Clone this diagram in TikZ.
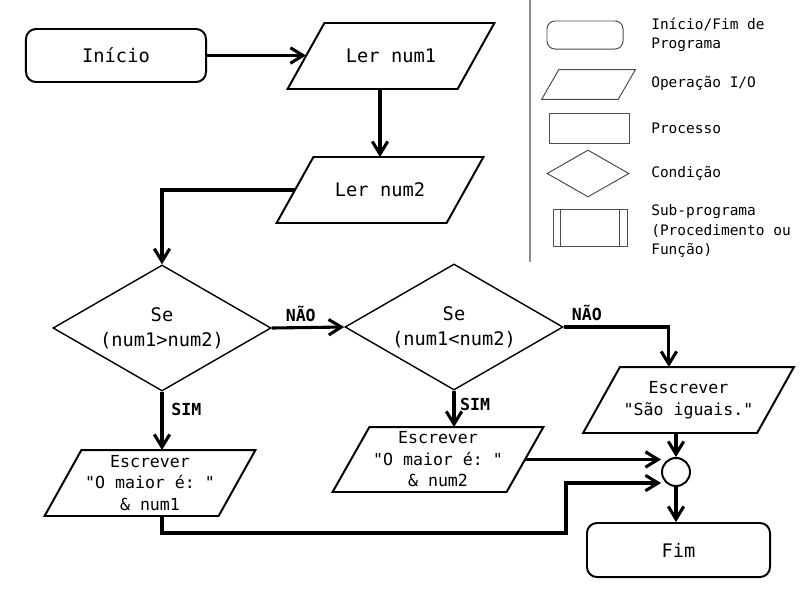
\documentclass[tikz,border=0pt]{standalone}
\usepackage{fontspec}
\setmonofont{DejaVu Sans Mono}
\usetikzlibrary{shapes.geometric,arrows.meta}

\begin{document}
\begin{tikzpicture}[x=0.025cm,y=-0.025cm]
	\tikzstyle{every node}=[font=\ttfamily\fontsize{13.3}{17.5}\selectfont]
	\tikzstyle{term}=[draw, rounded corners=0.25cm, line width=1.4pt, minimum width=4.5cm, minimum height=1.325cm]
	\tikzstyle{io}=[inner sep=0pt, outer sep=0.7pt, minimum height=1.6cm, minimum width=4.3cm, align=center]
	\tikzstyle{cond}=[draw, diamond, aspect=1.75, line width=1pt, inner sep=0pt, minimum width=5.45cm, minimum height=3.15cm, align=center]
	\tikzstyle{small}=[font=\ttfamily\fontsize{11.8}{15.3}\selectfont]
	\tikzstyle{lbl}=[font=\ttfamily\fontsize{11.8}{14}\selectfont\bfseries]
	\tikzstyle{arr}=[line width=2.2pt, -{Straight Barb[length=9pt,width=11pt]}]
	\tikzstyle{lg}=[draw=black!70, line width=0.7pt]
	\tikzstyle{lgtext}=[anchor=west, align=left, inner sep=0pt, font=\ttfamily\fontsize{10.3}{13.8}\selectfont]
	
	\useasboundingbox (0,0) rectangle (800,600);
	
	% legenda
	\draw [color=black!45, line width=1.5pt] (530,0) -- (530,262);
	\node [lg, rounded corners=0.2cm, minimum width=1.9cm, minimum height=0.7cm] (lgterm) at (585,35) {};
	\node [inner sep=0pt, minimum width=1.9cm, minimum height=0.725cm] (lgio) at (588.5,84.5) {};
	\draw [lg] ([xshift=0.2125cm]lgio.north west) -- ([xshift=0.2125cm]lgio.north east) -- ([xshift=-0.2125cm]lgio.south east) -- ([xshift=-0.2125cm]lgio.south west) -- cycle;
	\node [lg, minimum width=2cm, minimum height=0.75cm] (lgproc) at (589,128) {};
	\node [lg, diamond, inner sep=0pt, minimum width=2.05cm, minimum height=1.175cm] (lgcond) at (588,173.5) {};
	\node [lg, minimum width=1.85cm, minimum height=0.925cm] (lgsub) at (590,227.5) {};
	\draw [lg] ([xshift=0.2cm]lgsub.north west) -- ([xshift=0.2cm]lgsub.south west);
	\draw [lg] ([xshift=-0.2cm]lgsub.north east) -- ([xshift=-0.2cm]lgsub.south east);
	
	\node [lgtext] (txterm) at (651,35) {Início/Fim de\\Programa};
	\node [lgtext] (txio) at (651,83) {Operação I/O};
	\node [lgtext] (txproc) at (651,128) {Processo};
	\node [lgtext] (txcond) at (651,173) {Condição};
	\node [lgtext] (txsub) at (651,231) {Sub-programa\\(Procedimento ou\\Função)};
	
	% fluxograma
	\node [term] (inicio) at (116,55.5) {Início};
	\node [io, minimum width=4.2cm] (lerA) at (391,56) {Ler num1};
	\node [io, minimum width=4.2cm] (lerB) at (380,190) {Ler num2};
	\node [cond] (se1) at (162,328) {Se\\(num1>num2)};
	\node [cond] (se2) at (454,327) {Se\\(num1<num2)};
	\node [io, small] (outA) at (150,483) {Escrever\\"O maior é: "\\\& num1};
	\node [io, small, minimum height=1.575cm] (outB) at (438,459.5) {Escrever\\"O maior é: "\\\& num2};
	\node [io, small] (outC) at (688.5,400) {Escrever\\"São iguais."};
	\node [draw, circle, line width=1.4pt, minimum size=0.7cm, inner sep=0pt] (join) at (676,472) {};
	\node [term, minimum width=4.575cm, minimum height=1.35cm] (fim) at (678.5,550) {Fim};
	
	% paralelogramos de entrada/saida
	\foreach \n in {lerA,lerB,outA,outB,outC}
		\draw [line width=1.4pt] ([xshift=0.46cm]\n.north west) -- ([xshift=0.46cm]\n.north east) -- ([xshift=-0.46cm]\n.south east) -- ([xshift=-0.46cm]\n.south west) -- cycle;
	
	\draw [arr] (inicio.east) -- (inicio.east -| lerA.west);
	\draw [arr] (lerA.south -| lerB.north) -- (lerB.north);
	\draw [arr] (lerB.west) -| (se1.north);
	\draw [arr] (se1.east) -- (se2.west) node [lbl, pos=0.4, above] {NÃO};
	\draw [arr] (se2.east) -| ([xshift=-0.49cm]outC.north) node [lbl, pos=0.11, above] {NÃO};
	\draw [arr] (se1.south) -- (se1.south |- outA.north) node [lbl, pos=0.3, right, xshift=0.08cm] {SIM};
	\draw [arr] (se2.south) -- (se2.south |- outB.north) node [lbl, pos=0.37, right] {SIM};
	\draw [arr] (outC.south -| join.north) -- (join.north);
	\draw [arr] (outB.east) -- (outB.east -| join.west);
	\coordinate (bend) at (566,533);
	\draw [arr] (se1.south |- outA.south) |- (bend) |- ([yshift=-0.275cm]join.west);
	\draw [arr] (join.south) -- (join.south |- fim.north);
	
\end{tikzpicture}
\end{document}
